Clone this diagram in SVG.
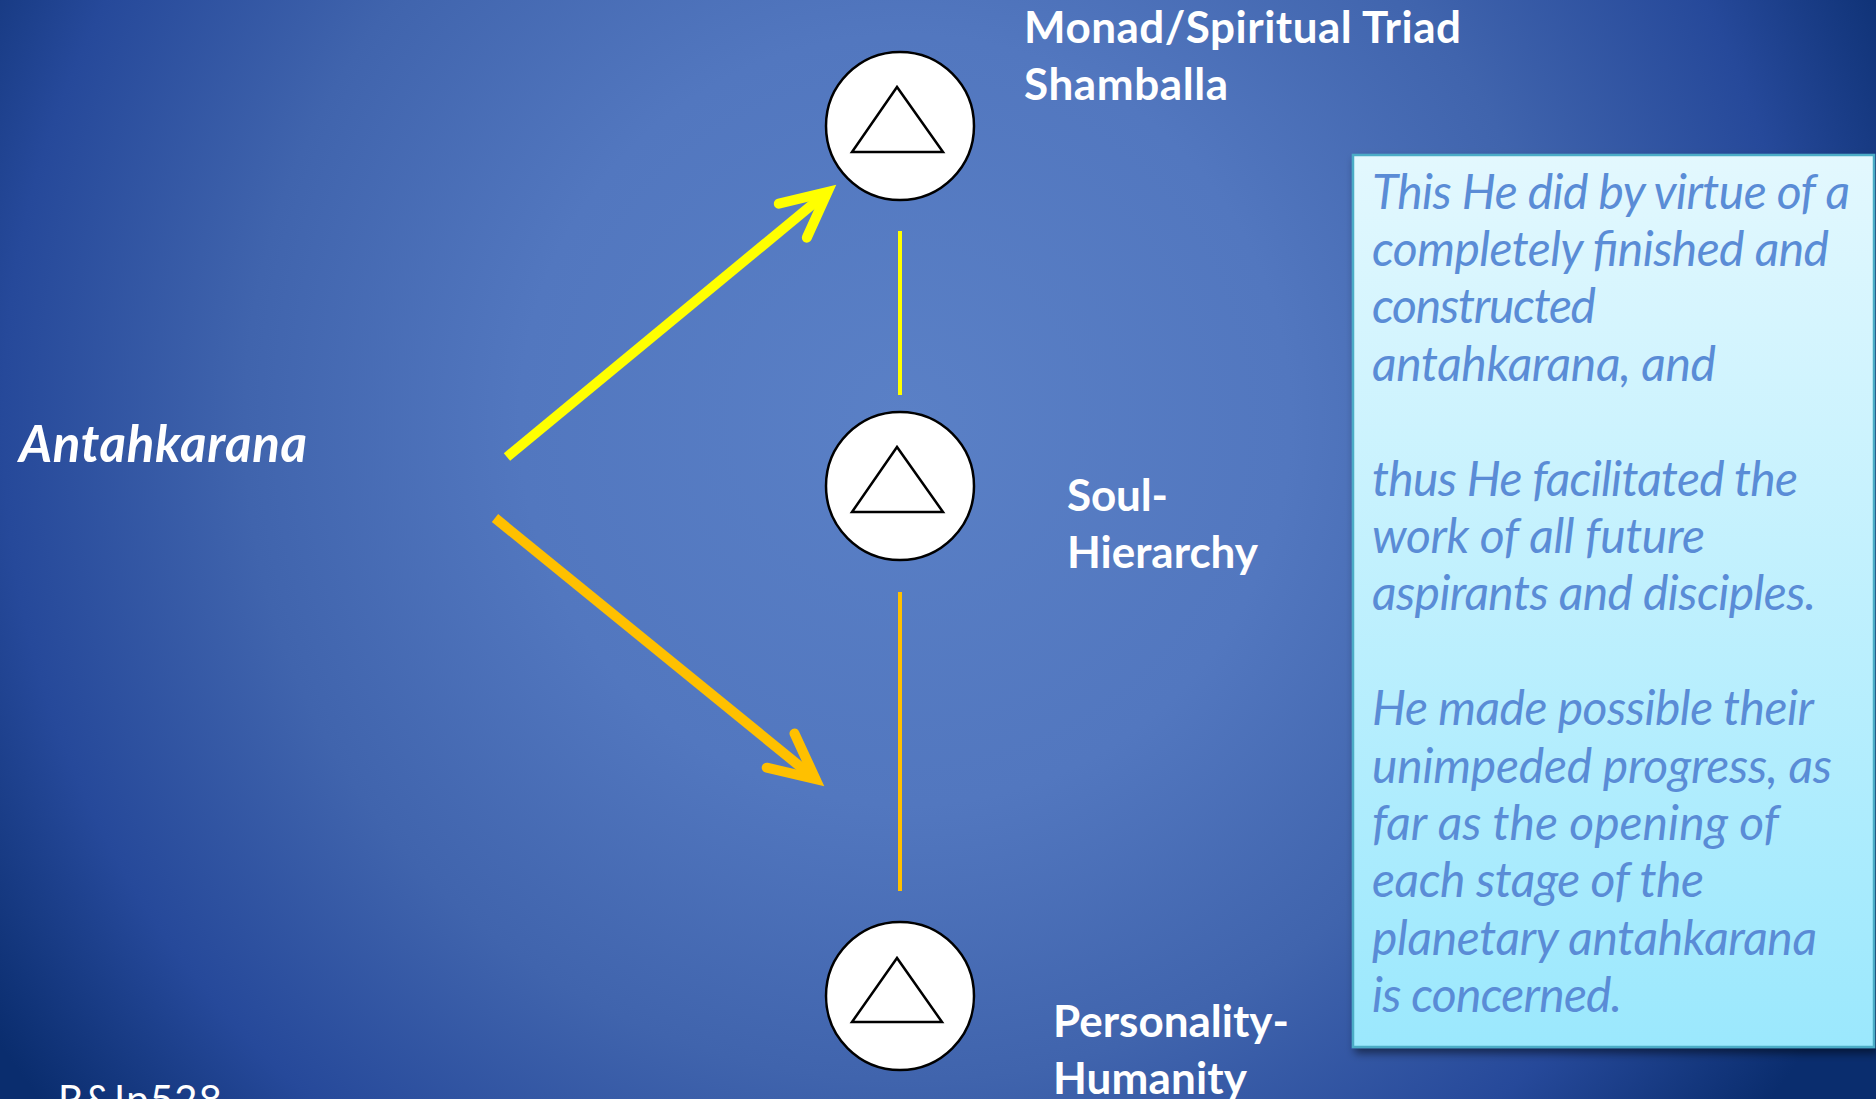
<svg xmlns="http://www.w3.org/2000/svg" width="1876" height="1099" viewBox="0 0 1876 1099">
  <defs>
    <radialGradient id="bg" gradientUnits="userSpaceOnUse" cx="905" cy="420" r="1100">
      <stop offset="0" stop-color="#5a80c6"/>
      <stop offset="0.35" stop-color="#5277bf"/>
      <stop offset="0.6" stop-color="#4064ad"/>
      <stop offset="0.82" stop-color="#26499a"/>
      <stop offset="1" stop-color="#0a2d6e"/>
    </radialGradient>
    <linearGradient id="boxfill" x1="0" y1="0" x2="0" y2="1">
      <stop offset="0" stop-color="#e3f8fe"/>
      <stop offset="1" stop-color="#9be8fd"/>
    </linearGradient>
    <filter id="shadow" x="-10%" y="-10%" width="120%" height="120%">
      <feDropShadow dx="3" dy="5" stdDeviation="4" flood-color="#000" flood-opacity="0.5"/>
    </filter>
    <marker id="headY" markerUnits="userSpaceOnUse" viewBox="-60 -40 80 80" markerWidth="80" markerHeight="80" refX="0" refY="0" orient="auto">
      <path d="M-45,-22 L0,0 L-45,22" fill="none" stroke="#ffff00" stroke-width="10" stroke-linecap="round" stroke-linejoin="miter"/>
    </marker>
    <marker id="headO" markerUnits="userSpaceOnUse" viewBox="-60 -40 80 80" markerWidth="80" markerHeight="80" refX="0" refY="0" orient="auto">
      <path d="M-45,-22 L0,0 L-45,22" fill="none" stroke="#ffc000" stroke-width="10" stroke-linecap="round" stroke-linejoin="miter"/>
    </marker>
    <style>
      .node circle { fill: #ffffff; stroke: #000000; stroke-width: 2.5; }
      .node polygon { fill: #ffffff; stroke: #000000; stroke-width: 2.5; }
      .lbl { font-family: Lato, "Liberation Sans", sans-serif; font-weight: bold; font-size: 44px; fill: #ffffff; }
      .big { font-style: italic; font-size: 51px; }
      .quote { font-family: Lato, "Liberation Sans", sans-serif; font-style: italic; font-size: 48px; fill: #5a8cd6; }
      .ref { font-family: Lato, "Liberation Sans", sans-serif; font-size: 40px; fill: #ffffff; }
    </style>
  </defs>

  <rect x="0" y="0" width="1876" height="1099" fill="url(#bg)"/>

  <g id="connectors">
    <line x1="507" y1="457" x2="827.5" y2="192" stroke="#ffff00" stroke-width="10" marker-end="url(#headY)"/>
    <line x1="495" y1="518" x2="815.5" y2="779" stroke="#ffc000" stroke-width="10" marker-end="url(#headO)"/>
    <line x1="900" y1="231" x2="900" y2="395" stroke="#ffff00" stroke-width="4"/>
    <line x1="900" y1="592" x2="900" y2="891" stroke="#ffc000" stroke-width="4"/>
  </g>

  <g id="node-monad" class="node">
    <circle cx="900" cy="126" r="74"/>
    <polygon points="897,87 852,152 943,152"/>
  </g>
  <g id="node-soul" class="node">
    <circle cx="900" cy="486" r="74"/>
    <polygon points="897,447 852,512 943,512"/>
  </g>
  <g id="node-personality" class="node">
    <circle cx="900" cy="996" r="74"/>
    <polygon points="897,958 852,1022 942,1022"/>
  </g>

  <g id="label-monad">
    <text class="lbl" x="1024" y="43" textLength="437">Monad/Spiritual Triad</text>
    <text class="lbl" x="1024" y="100" textLength="204">Shamballa</text>
  </g>
  <g id="label-soul">
    <text class="lbl" x="1067" y="511" textLength="101">Soul-</text>
    <text class="lbl" x="1067" y="568" textLength="191">Hierarchy</text>
  </g>
  <g id="label-personality">
    <text class="lbl" x="1053" y="1037" textLength="236">Personality-</text>
    <text class="lbl" x="1053" y="1094" textLength="194">Humanity</text>
  </g>
  <g id="label-antahkarana">
    <text class="lbl big" x="19" y="462" textLength="288">Antahkarana</text>
  </g>

  <g id="quote-box">
    <rect x="1353" y="155" width="521" height="892" fill="url(#boxfill)" stroke="#4bacc6" stroke-width="2.5" filter="url(#shadow)"/>
    <text class="quote" x="1372" y="209" textLength="478">This He did by virtue of a</text>
    <text class="quote" x="1372" y="266" textLength="457">completely finished and</text>
    <text class="quote" x="1372" y="323" textLength="224">constructed</text>
    <text class="quote" x="1372" y="381" textLength="344">antahkarana, and</text>
    <text class="quote" x="1372" y="496" textLength="426">thus He facilitated the</text>
    <text class="quote" x="1372" y="553" textLength="333">work of all future</text>
    <text class="quote" x="1372" y="610" textLength="444">aspirants and disciples.</text>
    <text class="quote" x="1372" y="725" textLength="442">He made possible their</text>
    <text class="quote" x="1372" y="783" textLength="460">unimpeded progress, as</text>
    <text class="quote" x="1372" y="840" textLength="407">far as the opening of</text>
    <text class="quote" x="1372" y="897" textLength="332">each stage of the</text>
    <text class="quote" x="1372" y="955" textLength="445">planetary antahkarana</text>
    <text class="quote" x="1372" y="1012" textLength="250">is concerned.</text>
  </g>

  <g id="reference">
    <text class="ref" x="58" y="1114" textLength="164">R&amp;Ip528</text>
  </g>
</svg>
